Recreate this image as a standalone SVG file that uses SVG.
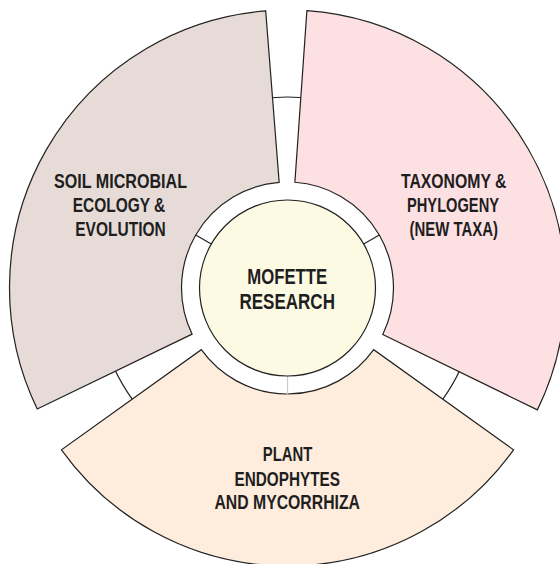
<svg xmlns="http://www.w3.org/2000/svg" width="560" height="564" viewBox="0 0 560 564">
  <style>
    .edge { stroke: #222222; stroke-width: 1.2; stroke-linejoin: miter; }
    .lbl { font-family: "Liberation Sans", Arial, sans-serif; font-weight: bold; font-size: 20px; fill: #1e1e1e; text-anchor: middle; }
    .ctr { font-size: 22px; }
  </style>
  <rect x="0" y="0" width="560" height="564" fill="#ffffff"/>
  <g id="ring">
    <circle cx="287.5" cy="288" r="191" fill="#ffffff" class="edge"/>
  </g>
  <g id="node-soil">
    <path d="M 37.21 408.99 A 278 278 0 0 1 265.69 10.86 L 279.18 182.33 A 106 106 0 0 0 192.07 334.13 Z" fill="#e6dbd7" class="edge"/>
    <text class="lbl" x="120.5" y="187.7" textLength="133" lengthAdjust="spacingAndGlyphs">SOIL MICROBIAL</text>
    <text class="lbl" x="119" y="212.3" textLength="92.5" lengthAdjust="spacingAndGlyphs">ECOLOGY &amp;</text>
    <text class="lbl" x="120.5" y="235.7" textLength="90.5" lengthAdjust="spacingAndGlyphs">EVOLUTION</text>
  </g>
  <g id="node-taxonomy">
    <path d="M 306.89 10.68 A 278 278 0 0 1 537.36 409.87 L 382.77 334.47 A 106 106 0 0 0 294.89 182.26 Z" fill="#fde0e2" class="edge"/>
    <text class="lbl" x="453.7" y="187.7" textLength="105.5" lengthAdjust="spacingAndGlyphs">TAXONOMY &amp;</text>
    <text class="lbl" x="453" y="212.3" textLength="92" lengthAdjust="spacingAndGlyphs">PHYLOGENY</text>
    <text class="lbl" x="453.7" y="235.7" textLength="88.5" lengthAdjust="spacingAndGlyphs">(NEW TAXA)</text>
  </g>
  <g id="node-plant">
    <path d="M 513.54 449.83 A 278 278 0 0 1 61.46 449.83 L 201.31 349.71 A 106 106 0 0 0 373.69 349.71 Z" fill="#feecdc" class="edge"/>
    <text class="lbl" x="287.5" y="460.7" textLength="49.5" lengthAdjust="spacingAndGlyphs">PLANT</text>
    <text class="lbl" x="287.2" y="485.7" textLength="105.5" lengthAdjust="spacingAndGlyphs">ENDOPHYTES</text>
    <text class="lbl" x="287.2" y="509.3" textLength="145.5" lengthAdjust="spacingAndGlyphs">AND MYCORRHIZA</text>
  </g>
  <g id="connectors">
    <line x1="211.29" y1="244" x2="195.7" y2="235" class="edge"/>
    <line x1="363.71" y1="244" x2="379.3" y2="235" class="edge"/>
    <line x1="287.5" y1="376" x2="287.5" y2="394.5" stroke="#cccccc" stroke-width="1.2"/>
  </g>
  <g id="node-center">
    <circle cx="287.5" cy="288" r="88" fill="#fdfae4" class="edge"/>
    <text class="lbl ctr" x="287.2" y="284.3" textLength="80" lengthAdjust="spacingAndGlyphs">MOFETTE</text>
    <text class="lbl ctr" x="287.2" y="309" textLength="95.5" lengthAdjust="spacingAndGlyphs">RESEARCH</text>
  </g>
</svg>
